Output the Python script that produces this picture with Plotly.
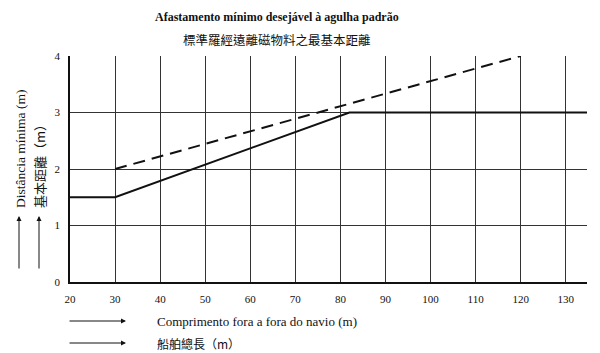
import plotly.graph_objects as go

# Data
solid_x = [20, 30, 82, 134.7]
solid_y = [1.5, 1.5, 3, 3]
dash_x = [30, 120]
dash_y = [2, 4]
x_ticks = [20, 30, 40, 50, 60, 70, 80, 90, 100, 110, 120, 130]
y_ticks = [0, 1, 2, 3, 4]

title_pt = "Afastamento mínimo desejável à agulha padrão"
title_zh = "標準羅經遠離磁物料之最基本距離"
ytitle_pt = "Distância mínima (m)"
ytitle_zh = "基本距離（m）"
xtitle_pt = "Comprimento fora a fora do navio (m)"
xtitle_zh = "船舶總長（m）"

SERIF = "Liberation Serif, Times New Roman, serif"
CJK = "Noto Sans CJK TC, Noto Sans CJK SC, sans-serif"

fig = go.Figure()
fig.add_trace(go.Scatter(x=solid_x, y=solid_y, mode="lines",
                         line=dict(color="#111", width=2), showlegend=False, hoverinfo="skip"))
fig.add_trace(go.Scatter(x=dash_x, y=dash_y, mode="lines",
                         line=dict(color="#111", width=2, dash="12px,7px"), showlegend=False, hoverinfo="skip"))

W, H = 600, 353
L, R, T, B = 70, 13, 56, 71
pw, ph = W - L - R, H - T - B

def px(x):
    return (x - L) / pw

def py(y):
    return (H - B - y) / ph

fig.update_layout(
    width=W, height=H,
    margin=dict(l=L, r=R, t=T, b=B),
    paper_bgcolor="white", plot_bgcolor="white",
    font=dict(family=SERIF, size=11, color="#111"),
    xaxis=dict(range=[20, 134.7], tickvals=x_ticks, ticktext=[str(v) for v in x_ticks],
               showgrid=True, gridcolor="#333", gridwidth=1,
               showline=True, linecolor="#111", linewidth=1.5,
               ticks="", zeroline=False, ticklabelstandoff=6,
               tickfont=dict(size=11, family=SERIF)),
    yaxis=dict(range=[0, 4], tickvals=y_ticks, ticktext=[str(v) for v in y_ticks],
               showgrid=True, gridcolor="#333", gridwidth=1,
               showline=True, linecolor="#111", linewidth=1.5,
               ticks="", zeroline=False, ticklabelstandoff=6,
               tickfont=dict(size=11, family=SERIF)),
)

ann = []
ann.append(dict(text="<b>" + title_pt + "</b>", x=px(277), y=py(17), xref="paper", yref="paper",
                showarrow=False, xanchor="center", yanchor="middle",
                font=dict(family=SERIF, size=12, color="#111")))
ann.append(dict(text=title_zh, x=px(277), y=py(40), xref="paper", yref="paper",
                showarrow=False, xanchor="center", yanchor="middle",
                font=dict(family=CJK, size=12.5, color="#111")))
# Y titles
ann.append(dict(text=ytitle_pt, x=px(20), y=py(210), xref="paper", yref="paper",
                showarrow=False, textangle=-90, xanchor="center", yanchor="bottom",
                font=dict(family=SERIF, size=13.5, color="#111")))
ann.append(dict(text=ytitle_zh, x=px(39), y=py(210), xref="paper", yref="paper",
                showarrow=False, textangle=-90, xanchor="center", yanchor="bottom",
                font=dict(family=CJK, size=13, color="#111")))
# Y arrows
for xx in (19, 39):
    ann.append(dict(text="", x=px(xx), y=py(216), xref="paper", yref="paper",
                    showarrow=True, ax=0, ay=54, arrowhead=2, arrowsize=1, arrowwidth=1,
                    arrowcolor="#111"))
# X titles
for rowy, txt, fnt, sz in ((321, xtitle_pt, SERIF, 13), (343, xtitle_zh, CJK, 12)):
    ann.append(dict(text="", x=px(126), y=py(rowy), xref="paper", yref="paper",
                    showarrow=True, ax=-58, ay=0, arrowhead=2, arrowsize=1, arrowwidth=1,
                    arrowcolor="#111"))
    ann.append(dict(text=txt, x=px(155), y=py(rowy), xref="paper", yref="paper",
                    showarrow=False, xanchor="left", yanchor="middle",
                    font=dict(family=fnt, size=sz, color="#111")))

fig.update_layout(annotations=ann)
fig.write_html("out.html")
